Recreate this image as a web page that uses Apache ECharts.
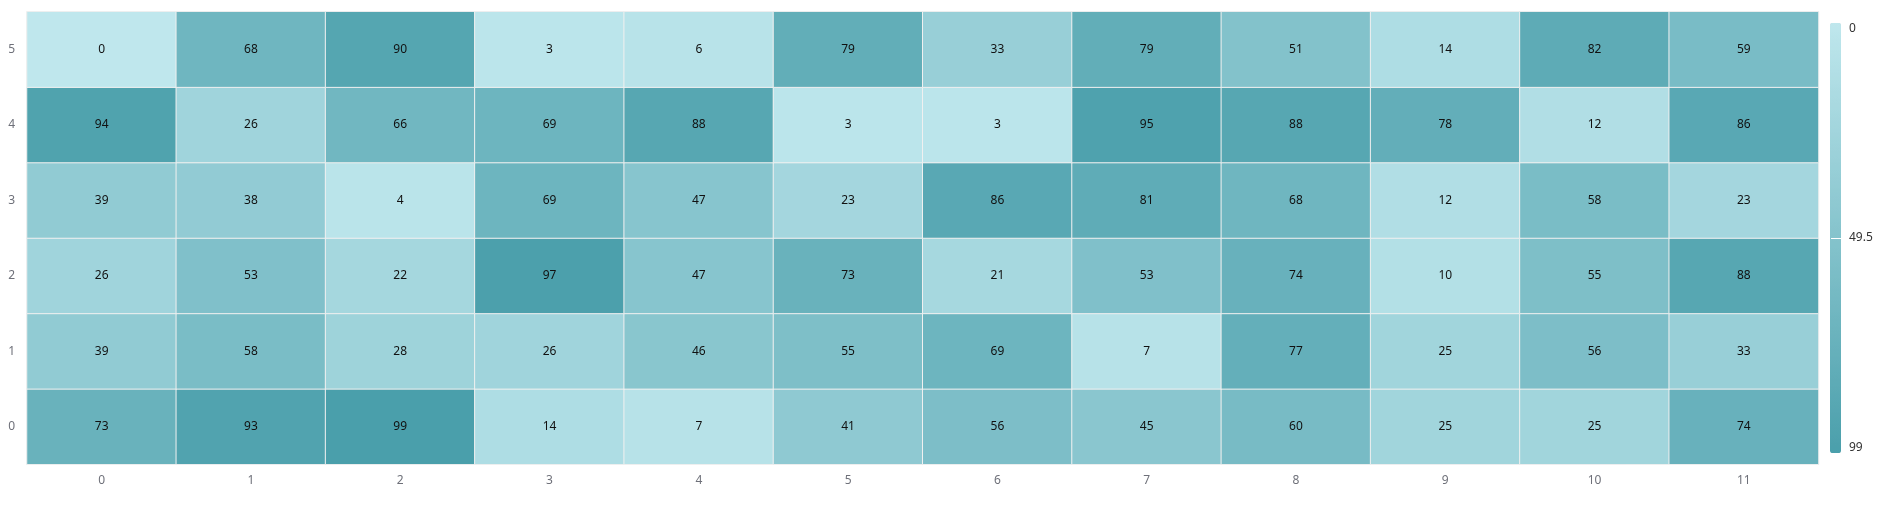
<!DOCTYPE html>
<html>
<head>
<meta charset="utf-8">
<script src="https://cdn.jsdelivr.net/npm/echarts@6/dist/echarts.min.js"></script>
<style>
html,body{margin:0;padding:0;background:#fff;}
#chart{width:1881px;height:507px;}
</style>
</head>
<body>
<div id="chart"></div>
<script>
const xCategories = ['0','1','2','3','4','5','6','7','8','9','10','11'];
const yCategories = ['0','1','2','3','4','5'];
// rows by y category (bottom to top)
const row0 = [73,93,99,14,7,41,56,45,60,25,25,74];
const row1 = [39,58,28,26,46,55,69,7,77,25,56,33];
const row2 = [26,53,22,97,47,73,21,53,74,10,55,88];
const row3 = [39,38,4,69,47,23,86,81,68,12,58,23];
const row4 = [94,26,66,69,88,3,3,95,88,78,12,86];
const row5 = [0,68,90,3,6,79,33,79,51,14,82,59];
const rows = [row0,row1,row2,row3,row4,row5];
const valueMin = 0;
const valueMax = 99;
const legendTicks = [0,49.5,99];

const data = [];
rows.forEach((r, yi) => r.forEach((v, xi) => data.push([xi, yi, v])));

const font = 'Noto Sans';
const chart = echarts.init(document.getElementById('chart'));
chart.setOption({
  animation: false,
  textStyle: {fontFamily: font},
  grid: [
    {left: 27, right: 62.5, top: 11.7, bottom: 42.7, show: true, borderColor: '#e3e3e3', borderWidth: 1, containLabel: false},
    {left: 1831, width: 11, top: 22.7, height: 430.6, show: false}
  ],
  xAxis: [
    {type: 'category', data: xCategories, gridIndex: 0,
     axisLine: {show: false}, axisTick: {show: false}, splitLine: {show: false},
     axisLabel: {color: '#6e7079', fontSize: 12, margin: 10, fontFamily: font}},
    {type: 'value', gridIndex: 1, show: false, min: 0, max: 1}
  ],
  yAxis: [
    {type: 'category', data: yCategories, gridIndex: 0,
     axisLine: {show: false}, axisTick: {show: false}, splitLine: {show: false},
     axisLabel: {color: '#6e7079', fontSize: 12, margin: 12, fontFamily: font}},
    {type: 'value', gridIndex: 1, min: valueMin, max: valueMax, interval: (valueMax - valueMin) / 2,
     inverse: true, position: 'right', z: 10,
     axisLine: {show: false}, axisTick: {show: false},
     splitLine: {show: true, lineStyle: {color: '#ffffff', width: 1}},
     axisLabel: {color: '#333', fontSize: 12, margin: 7, fontFamily: font,
       verticalAlignMinLabel: 'top', verticalAlignMaxLabel: 'bottom',
       formatter: v => legendTicks.includes(v) ? String(v) : ''}}
  ],
  visualMap: {
    type: 'continuous',
    min: valueMin, max: valueMax,
    calculable: false,
    inverse: true,
    orient: 'vertical',
    left: 1815, top: 7.7,
    itemWidth: 11, itemHeight: 430.6,
    text: null,
    showLabel: false,
    seriesIndex: 0,
    z: 2,
    inRange: {color: ['#bfe7ed', '#4a9fab']}
  },
  series: [{
    type: 'heatmap',
    xAxisIndex: 0, yAxisIndex: 0,
    data: data,
    label: {show: true, color: '#111', fontSize: 12, fontFamily: font},
    itemStyle: {borderColor: '#f0f0f0', borderWidth: 1},
    emphasis: {disabled: true}
  }]
});
</script>
</body>
</html>
